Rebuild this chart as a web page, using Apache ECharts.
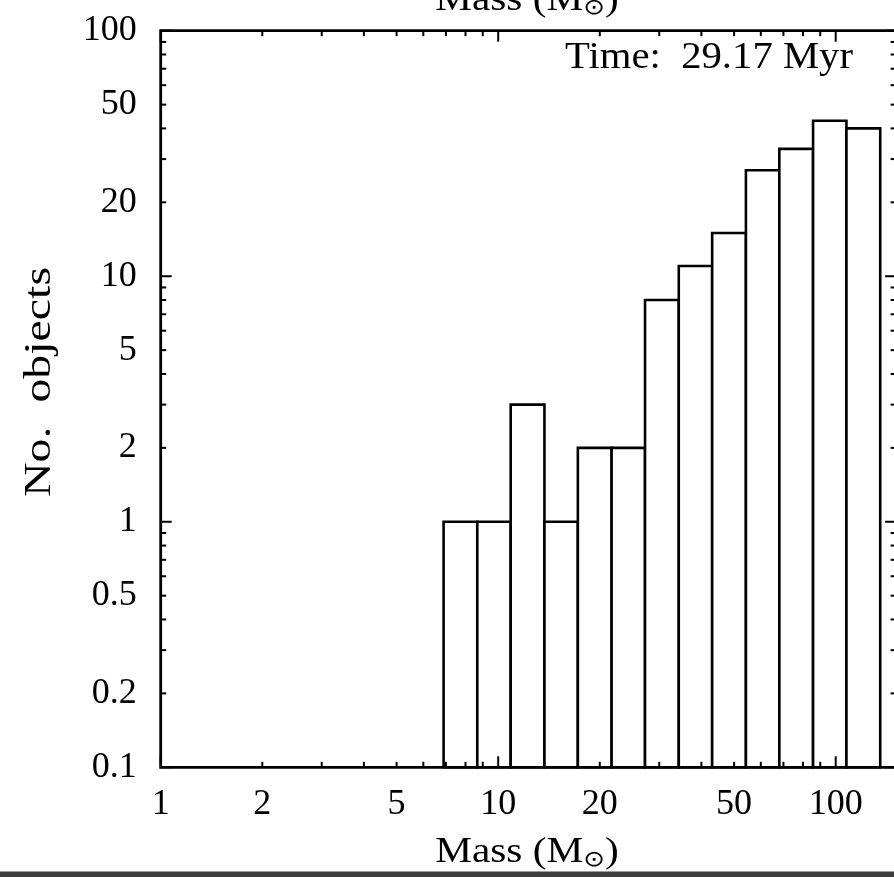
<!DOCTYPE html>
<html><head><meta charset="utf-8">
<script src="https://cdn.jsdelivr.net/npm/echarts@6/dist/echarts.min.js"></script>
<style>html,body{margin:0;padding:0;background:#fff}#c{width:894px;height:877px}</style>
</head><body><div id="c"></div>
<script>
// ---- data ----
const binEdges = [6.89, 8.67, 10.89, 13.71, 17.22, 21.68, 27.23, 34.28, 43.05, 54.20, 68.08, 85.70, 107.6, 135.5];
const counts = [1, 1, 3, 1, 2, 2, 8, 11, 15, 27, 33, 43, 40];
const xMajorTicks = [1, 10, 100];
const xMinorTicks = [2, 3, 4, 5, 6, 7, 8, 9, 20, 30, 40, 50, 60, 70, 80, 90];
const xTickLabels = ['1', '2', '5', '10', '20', '50', '100'];
const yMajorTicks = [0.1, 1, 10, 100];
const yMinorTicks = [0.2, 0.3, 0.4, 0.5, 0.6, 0.7, 0.8, 0.9, 2, 3, 4, 5, 6, 7, 8, 9, 20, 30, 40, 50, 60, 70, 80, 90];
const yTickLabels = ['0.1', '0.2', '0.5', '1', '2', '5', '10', '20', '50', '100'];
const xAxisName = 'Mass (M';
const xAxisSub = '⊙';
const yAxisName = 'No.  objects';
const timeLabel = 'Time:  29.17 Myr';

const FONT = 'Liberation Serif';
const chart = echarts.init(document.getElementById('c'), null, {renderer: 'canvas'});

const barData = counts.map((c, i) => [binEdges[i], binEdges[i + 1], c]);
const xTickData = xMajorTicks.map(v => [v, 1, 1]).concat(xMinorTicks.map(v => [v, 1, 0]));
const yTickData = yMajorTicks.map(v => [1, v, 1]).concat(yMinorTicks.map(v => [1, v, 0]));
const xLabelData = xTickLabels.map(s => [parseFloat(s), 1, s]);
const yLabelData = yTickLabels.map(s => [1, parseFloat(s), s]);

function xTickItem(params, api) {
  const cs = params.coordSys;
  const px = api.coord([api.value(0), 1])[0];
  const L = api.value(2) ? 11 : 5.5;
  const st = {stroke: '#000', lineWidth: 2};
  return {type: 'group', children: [
    {type: 'line', shape: {x1: px, y1: cs.y + cs.height, x2: px, y2: cs.y + cs.height - L}, style: st},
    {type: 'line', shape: {x1: px, y1: cs.y, x2: px, y2: cs.y + L}, style: st}
  ]};
}
function yTickItem(params, api) {
  const cs = params.coordSys;
  const py = api.coord([1, api.value(1)])[1];
  const L = api.value(2) ? 11 : 5.5;
  const st = {stroke: '#000', lineWidth: 2};
  return {type: 'group', children: [
    {type: 'line', shape: {x1: cs.x, y1: py, x2: cs.x + L, y2: py}, style: st},
    {type: 'line', shape: {x1: cs.x + cs.width, y1: py, x2: cs.x + cs.width - L, y2: py}, style: st}
  ]};
}
function xLabelItem(params, api) {
  const cs = params.coordSys;
  const px = api.coord([api.value(0), 1])[0];
  return {type: 'text', x: px, y: cs.y + cs.height + 37,
    style: {text: xTickLabels[params.dataIndex], fontFamily: FONT, fontSize: 36, fill: '#000', align: 'center', verticalAlign: 'middle'}};
}
function yLabelItem(params, api) {
  const cs = params.coordSys;
  const py = api.coord([1, api.value(1)])[1];
  return {type: 'text', x: cs.x - 24, y: py,
    style: {text: yTickLabels[params.dataIndex], fontFamily: FONT, fontSize: 36, fill: '#000', align: 'right', verticalAlign: 'middle'}};
}
function barItem(params, api) {
  const p0 = api.coord([api.value(0), api.value(2)]);
  const p1 = api.coord([api.value(1), 0.1]);
  return {type: 'rect', shape: {x: p0[0], y: p0[1], width: p1[0] - p0[0], height: p1[1] - p0[1]},
    style: {fill: '#fff', stroke: '#000', lineWidth: 2.6}};
}

const GL = 160.7, GT = 30.7, GW = 735.4, GH = 736.6;
const option = {
  backgroundColor: '#fff',
  animation: false,
  grid: {left: GL, top: GT, width: GW, height: GH, outerBoundsMode: 'none', containLabel: false,
    show: true, borderColor: '#000', borderWidth: 2.8, backgroundColor: 'transparent', z: 5},
  xAxis: {type: 'log', logBase: 10, min: 1, max: 151, axisLine: {show: false}, axisTick: {show: false}, axisLabel: {show: false}, splitLine: {show: false}, minorTick: {show: false}},
  yAxis: {type: 'log', logBase: 10, min: 0.1, max: 100, axisLine: {show: false}, axisTick: {show: false}, axisLabel: {show: false}, splitLine: {show: false}, minorTick: {show: false}},
  series: [
    {type: 'custom', renderItem: barItem, data: barData, encode: {x: [0, 1], y: 2}, clip: false, z: 2},
    {type: 'custom', renderItem: xTickItem, data: xTickData, encode: {x: 0, y: 1}, clip: false, z: 6},
    {type: 'custom', renderItem: yTickItem, data: yTickData, encode: {x: 0, y: 1}, clip: false, z: 6},
    {type: 'custom', renderItem: xLabelItem, data: xLabelData, encode: {x: 0, y: 1}, clip: false, z: 6},
    {type: 'custom', renderItem: yLabelItem, data: yLabelData, encode: {x: 0, y: 1}, clip: false, z: 6}
  ],
  graphic: [
    {type: 'text', x: 527, y: 853, scaleX: 1.18, z: 10,
      style: {text: '{m|' + xAxisName + '}{s|' + xAxisSub + '}{m|)}', align: 'center', verticalAlign: 'middle',
        rich: {m: {fontFamily: FONT, fontSize: 35, fill: '#000', verticalAlign: 'middle'},
               s: {fontFamily: 'DejaVu Sans', fontSize: 22, fill: '#000', padding: [14, 0, 0, 0]}}}},
    {type: 'text', x: 527, y: 1, scaleX: 1.18, z: 10,
      style: {text: '{m|' + xAxisName + '}{s|' + xAxisSub + '}{m|)}', align: 'center', verticalAlign: 'middle',
        rich: {m: {fontFamily: FONT, fontSize: 35, fill: '#000', verticalAlign: 'middle'},
               s: {fontFamily: 'DejaVu Sans', fontSize: 22, fill: '#000', padding: [14, 0, 0, 0]}}}},
    {type: 'text', x: 40, y: 382, rotation: Math.PI / 2, scaleX: 1.26, z: 10,
      style: {text: yAxisName, fontFamily: FONT, fontSize: 38, fill: '#000', align: 'center', verticalAlign: 'middle'}},
    {type: 'text', x: 853, y: 58, scaleX: 1.1, z: 10,
      style: {text: timeLabel, fontFamily: FONT, fontSize: 37, fill: '#000', align: 'right', verticalAlign: 'middle'}},
    {type: 'rect', shape: {x: 0, y: 871.5, width: 894, height: 6}, style: {fill: '#3d3d3d'}, z: 10}
  ]
};
chart.setOption(option);
</script></body></html>
